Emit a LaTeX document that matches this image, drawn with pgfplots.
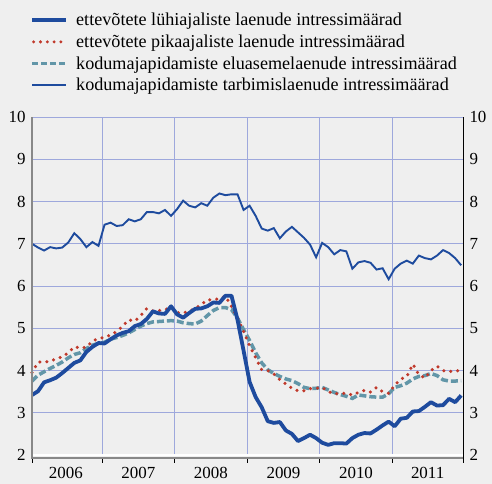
\documentclass[border=0pt]{standalone}
\usepackage{pgfplots}
\usepackage{pgfplotstable}
\usepackage{fontspec}
\setmainfont{Liberation Serif}
\pgfplotsset{compat=1.18}
\definecolor{bg}{RGB}{239,239,239}
\definecolor{dblue}{RGB}{30,75,158}
\definecolor{dred}{RGB}{192,57,43}
\definecolor{teal2}{RGB}{98,150,168}
\definecolor{gridc}{RGB}{158,168,220}
\definecolor{axgray}{RGB}{136,136,136}
\pgfplotstableread{
i a b c d
0 3.42 3.95 3.75 7.00
1 3.51 4.20 3.89 6.91
2 3.72 4.20 3.97 6.84
3 3.77 4.22 4.05 6.92
4 3.83 4.28 4.12 6.89
5 3.94 4.32 4.20 6.91
6 4.06 4.42 4.30 7.03
7 4.18 4.56 4.38 7.25
8 4.24 4.53 4.42 7.11
9 4.44 4.55 4.52 6.92
10 4.56 4.70 4.60 7.04
11 4.65 4.75 4.64 6.95
12 4.64 4.79 4.67 7.45
13 4.74 4.84 4.74 7.50
14 4.83 4.92 4.78 7.42
15 4.89 5.05 4.83 7.44
16 4.93 5.20 4.89 7.58
17 5.05 5.17 4.97 7.53
18 5.10 5.30 5.05 7.58
19 5.22 5.47 5.11 7.75
20 5.40 5.41 5.15 7.75
21 5.35 5.42 5.16 7.72
22 5.34 5.44 5.17 7.80
23 5.52 5.49 5.18 7.66
24 5.33 5.37 5.17 7.82
25 5.25 5.36 5.13 8.02
26 5.36 5.40 5.11 7.90
27 5.46 5.47 5.10 7.86
28 5.47 5.56 5.17 7.96
29 5.52 5.67 5.30 7.90
30 5.61 5.68 5.42 8.09
31 5.60 5.70 5.49 8.19
32 5.77 5.76 5.49 8.15
33 5.77 5.52 5.44 8.17
34 5.20 5.24 5.24 8.17
35 4.47 4.92 4.97 7.80
36 3.73 4.59 4.71 7.90
37 3.37 4.30 4.42 7.66
38 3.13 4.02 4.18 7.36
39 2.80 4.00 4.02 7.31
40 2.76 3.92 3.93 7.37
41 2.78 3.78 3.86 7.13
42 2.58 3.68 3.80 7.29
43 2.50 3.58 3.76 7.40
44 2.33 3.52 3.69 7.27
45 2.40 3.52 3.60 7.14
46 2.48 3.57 3.57 6.98
47 2.40 3.58 3.58 6.68
48 2.29 3.60 3.60 7.02
49 2.24 3.50 3.54 6.92
50 2.28 3.45 3.48 6.75
51 2.28 3.46 3.43 6.85
52 2.27 3.46 3.39 6.82
53 2.40 3.42 3.34 6.41
54 2.48 3.48 3.42 6.56
55 2.52 3.53 3.40 6.59
56 2.51 3.49 3.38 6.55
57 2.60 3.60 3.37 6.39
58 2.70 3.50 3.37 6.42
59 2.79 3.46 3.45 6.16
60 2.68 3.65 3.60 6.41
61 2.86 3.80 3.64 6.53
62 2.88 3.85 3.70 6.60
63 3.03 4.15 3.80 6.53
64 3.04 3.90 3.86 6.72
65 3.14 3.82 3.88 6.66
66 3.25 4.00 3.93 6.63
67 3.17 4.10 3.88 6.72
68 3.18 4.00 3.78 6.85
69 3.33 3.97 3.75 6.78
70 3.25 4.00 3.75 6.66
71 3.41 3.98 3.76 6.49
}\rates
\begin{document}
\begin{tikzpicture}
\fill[bg] (-32bp,-29bp) rectangle (460bp,455bp);
\begin{axis}[
  at={(0,0)}, anchor=south west,
  scale only axis, width=431bp, height=338bp,
  xmin=0, xmax=71.3, ymin=2, ymax=10,
  axis line style={draw=none},
  major tick length=0pt,
  xtick={11.6,23.6,35.6,47.6,59.6},
  xticklabels={},
  extra x ticks={5.6,17.6,29.6,41.6,53.6,65.45},
  extra x tick labels={2006,2007,2008,2009,2010,2011},
  extra x tick style={grid=none, major tick length=0pt},
  xticklabel style={yshift=-9bp},
  ytick={2,3,...,10},
  yticklabel style={xshift=-3bp},
  grid=major,
  grid style={gridc, line width=0.8bp},
  tick label style={font=\fontsize{17}{20}\selectfont},
  /pgf/number format/assume math mode=true,
  clip=false,
  legend style={at={(axis description cs:0,1)}, anchor=north west,
    xshift=-2bp, yshift=106bp, draw=none, fill=none,
    font=\fontsize{18.2}{21}\selectfont,
    inner xsep=0pt, inner ysep=0pt, row sep=3.6bp,
    legend cell align=left,
    /tikz/every odd column/.append style={column sep=6bp}},
  legend image code/.code={\draw[#1] (0bp,0bp) -- (34bp,0bp);},
]
\addlegendimage{dblue, line width=4bp}
\addlegendentry{ettevõtete lühiajaliste laenude intressimäärad}
\addlegendimage{dred, line width=3.3bp, line cap=round, dash pattern=on 0bp off 6.8bp, dash phase=-1.5bp}
\addlegendentry{ettevõtete pikaajaliste laenude intressimäärad}
\addlegendimage{teal2, line width=3.5bp, dash pattern=on 6bp off 3bp}
\addlegendentry{kodumajapidamiste eluasemelaenude intressimäärad}
\addlegendimage{dblue, line width=2bp}
\addlegendentry{kodumajapidamiste tarbimislaenude intressimäärad}

\addplot[forget plot, dblue, line width=1.9bp] table[x=i, y=d] {\rates};
\addplot[forget plot, teal2, line width=3.5bp, dash pattern=on 7bp off 3bp] table[x=i, y=c] {\rates};
\addplot[forget plot, dred, line width=3.5bp, line cap=round, dash pattern=on 0bp off 7bp] table[x=i, y=b] {\rates};
\addplot[forget plot, dblue, line width=3.8bp, line join=round] table[x=i, y=a] {\rates};

\draw[white, line width=1.2bp] (rel axis cs:0,0) -- (rel axis cs:1,0);
\draw[axgray, line width=2bp] ([yshift=-3bp]rel axis cs:0,0) -- ([yshift=-3bp]rel axis cs:1,0);
\draw[axgray, line width=2bp] (rel axis cs:0,1) -- ([yshift=-4bp]rel axis cs:0,0);
\draw[black, line width=0.9bp] (rel axis cs:1,1) -- ([yshift=-8bp]rel axis cs:1,0);
\draw[black, line width=0.9bp] ([yshift=-4bp]axis cs:0,2) -- ([yshift=-8bp]axis cs:0,2);
\draw[black, line width=0.9bp] ([yshift=-4bp]axis cs:11.6,2) -- ([yshift=-8bp]axis cs:11.6,2);
\draw[black, line width=0.9bp] ([yshift=-4bp]axis cs:23.6,2) -- ([yshift=-8bp]axis cs:23.6,2);
\draw[black, line width=0.9bp] ([yshift=-4bp]axis cs:35.6,2) -- ([yshift=-8bp]axis cs:35.6,2);
\draw[black, line width=0.9bp] ([yshift=-4bp]axis cs:47.6,2) -- ([yshift=-8bp]axis cs:47.6,2);
\draw[black, line width=0.9bp] ([yshift=-4bp]axis cs:59.6,2) -- ([yshift=-8bp]axis cs:59.6,2);
\end{axis}
\begin{axis}[
  at={(0,0)}, anchor=south west,
  scale only axis, width=431bp, height=338bp,
  xmin=0, xmax=71.3, ymin=2, ymax=10,
  axis line style={draw=none},
  major tick length=0pt,
  xtick=\empty,
  ytick={2,3,...,10},
  yticklabel pos=right,
  yticklabel style={xshift=3bp},
  tick label style={font=\fontsize{17}{20}\selectfont},
  /pgf/number format/assume math mode=true,
]
\addplot[draw=none, forget plot] coordinates {(0,2)};
\end{axis}
\pgfresetboundingbox
\path (-32bp,-29bp) rectangle (460bp,455bp);
\end{tikzpicture}
\end{document}
